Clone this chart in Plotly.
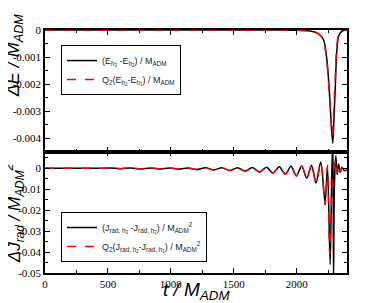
import plotly.graph_objects as go

# ---------------- data ----------------
# top panel: energy differences
t_E_a = [0, 1000, 1800, 2000, 2106, 2173, 2213, 2240, 2260, 2276, 2287, 2297, 2308, 2318, 2334, 2358, 2385, 2400]
dE_h3h2 = [0, 0, 0, -0.00001, -0.00004, -0.00014, -0.00035, -0.0011, -0.0023, -0.0036, -0.0042,
           -0.0032, -0.002, -0.00085, -0.00022, -0.00005, 0, 0]
t_E_b = [0, 1000, 1800, 2000, 2106, 2173, 2210, 2238, 2258, 2274, 2284, 2294, 2305, 2316, 2332, 2356, 2385, 2400]
dE_q2 = [0, 0, 0, -0.00001, -0.00004, -0.00014, -0.00035, -0.0011, -0.0023, -0.0034, -0.0039,
         -0.003, -0.0019, -0.0008, -0.0002, -0.00004, 0, 0]

# bottom panel: radiated angular momentum differences
t_J_a = [0, 450, 520, 600, 680, 760, 840, 915, 990, 1065, 1135, 1205, 1275, 1340, 1405, 1468,
         1530, 1590, 1648, 1705, 1760, 1812, 1862, 1910, 1955, 1998, 2040, 2080, 2118, 2154,
         2191, 2226, 2245, 2266, 2280, 2288, 2293, 2300, 2311, 2322, 2333, 2346, 2360, 2378, 2400]
dJ_h3h2 = [0, 0, 0.0001, -0.0002, 0.0001, -0.0003, 0.0001, -0.0003, 0.0001, -0.0004, 0.0001,
           -0.0006, 0.0002, -0.0008, 0.0002, -0.0011, 0.0003, -0.0014, 0.0004, -0.0018, 0.0005,
           -0.0023, 0.0007, -0.0029, 0.0009, -0.0037, 0.0011, -0.0048, 0.0014, -0.007, 0.003,
           -0.0165, 0.001, -0.046, 0.0, 0.012, -0.053, -0.008, 0.006, -0.003, 0.002, -0.002,
           0.0005, -0.0012, -0.0008]
t_J_b = [0, 450, 520, 600, 680, 760, 840, 915, 990, 1065, 1135, 1205, 1275, 1340, 1405, 1468,
         1530, 1590, 1648, 1705, 1760, 1812, 1862, 1910, 1955, 1998, 2040, 2080, 2118, 2154,
         2191, 2226, 2245, 2262, 2280, 2290, 2300, 2311, 2322, 2334, 2348, 2362, 2380, 2400]
dJ_q2 = [0, 0, 0.0001, -0.0002, 0.0001, -0.0003, 0.0001, -0.0003, 0.0001, -0.0004, 0.0001,
         -0.0006, 0.0002, -0.0008, 0.0002, -0.0011, 0.0003, -0.0014, 0.0004, -0.0018, 0.0005,
         -0.0023, 0.0007, -0.0029, 0.0009, -0.0037, 0.0011, -0.0048, 0.0014, -0.007, 0.003,
         -0.0175, 0.0014, -0.041, -0.01, -0.004, 0.001, 0.004, -0.002, 0.0015, -0.0015,
         0.0003, -0.001, -0.0008]

x_ticks = [0, 500, 1000, 1500, 2000]
x_ticktext = ["0", "500", "1000", "1500", "2000"]
yE_ticks = [0, -0.001, -0.002, -0.003, -0.004]
yE_ticktext = ["0", "-0.001", "-0.002", "-0.003", "-0.004"]
yJ_ticks = [0, -0.01, -0.02, -0.03, -0.04, -0.05]
yJ_ticktext = ["0", "-0.01", "-0.02", "-0.03", "-0.04", "-0.05"]

names_E = ["(E<sub>h<sub>3</sub></sub> -E<sub>h<sub>2</sub></sub>) / M<sub>ADM</sub>",
           "Q<sub>2</sub>(E<sub>h<sub>2</sub></sub>-E<sub>h<sub>1</sub></sub>) / M<sub>ADM</sub>"]
names_J = ["(J<sub>rad, h<sub>3</sub></sub> -J<sub>rad, h<sub>2</sub></sub>) / M<sub>ADM</sub><sup>2</sup>",
           "Q<sub>2</sub>(J<sub>rad, h<sub>2</sub></sub>-J<sub>rad, h<sub>1</sub></sub>) / M<sub>ADM</sub><sup>2</sup>"]

# ---------------- figure ----------------
fig = go.Figure()
fig.add_trace(go.Scatter(x=t_E_a, y=dE_h3h2, mode="lines", name=names_E[0],
                         line=dict(color="black", width=1.5, shape="spline", smoothing=0.8),
                         xaxis="x2", yaxis="y2", legend="legend"))
fig.add_trace(go.Scatter(x=t_E_b, y=dE_q2, mode="lines", name=names_E[1],
                         line=dict(color="#ff0000", width=1.5, dash="dash", shape="spline", smoothing=0.8),
                         xaxis="x2", yaxis="y2", legend="legend"))
fig.add_trace(go.Scatter(x=t_J_a, y=dJ_h3h2, mode="lines", name=names_J[0],
                         line=dict(color="black", width=1.5, shape="spline", smoothing=0.8),
                         xaxis="x", yaxis="y", legend="legend2"))
fig.add_trace(go.Scatter(x=t_J_b, y=dJ_q2, mode="lines", name=names_J[1],
                         line=dict(color="#ff0000", width=1.5, dash="dash", shape="spline", smoothing=0.8),
                         xaxis="x", yaxis="y", legend="legend2"))

tickfont = dict(family="Liberation Serif, Times New Roman, serif", size=11, color="black")
common_axis = dict(showline=True, linecolor="black", linewidth=1.5, mirror="allticks",
                   ticks="inside", ticklen=5, tickwidth=1, tickcolor="black",
                   showgrid=False, zeroline=False, tickfont=tickfont, automargin=False)

# the page body adds an 8 px offset; the figure is sized so the plot area lands at
# x 45..347, y 30..273 in the 392x303 window
fig.update_layout(
    width=384, height=295,
    margin=dict(l=37, r=45, t=22, b=30),
    paper_bgcolor="white", plot_bgcolor="white",
    font=dict(family="Liberation Sans", color="black"),
    xaxis=dict(domain=[0, 1], range=[0, 2400], tickvals=x_ticks, ticktext=x_ticktext,
               minor=dict(dtick=250, ticklen=3, ticks="inside", tickcolor="black"),
               anchor="y", **common_axis),
    yaxis=dict(domain=[0, 0.5], range=[-0.05, 0.008], tickvals=yJ_ticks, ticktext=yJ_ticktext,
               minor=dict(dtick=0.005, tick0=0, ticklen=3, ticks="inside", tickcolor="black"),
               anchor="x", **common_axis),
    xaxis2=dict(domain=[0, 1], range=[0, 2400], tickvals=x_ticks, showticklabels=False,
                minor=dict(dtick=250, ticklen=3, ticks="inside", tickcolor="black"),
                anchor="y2", matches="x", **common_axis),
    yaxis2=dict(domain=[0.5, 1], range=[-0.0045, 0], tickvals=yE_ticks, ticktext=yE_ticktext,
                minor=dict(dtick=0.0005, tick0=0, ticklen=3, ticks="inside", tickcolor="black"),
                anchor="x2", **common_axis),
    legend=dict(x=0.053, y=0.938, xanchor="left", yanchor="top", bgcolor="white",
                bordercolor="black", borderwidth=1, itemwidth=30,
                font=dict(family="Liberation Sans", size=9, color="#222"),
                tracegroupgap=0),
    legend2=dict(x=0.053, y=0.251, xanchor="left", yanchor="top", bgcolor="white",
                 bordercolor="black", borderwidth=1, itemwidth=30,
                 font=dict(family="Liberation Sans", size=9, color="#222"),
                 tracegroupgap=0),
    showlegend=True,
)

fig.add_annotation(text="<i>ΔE / M<sub>ADM</sub></i>", xref="paper", yref="paper",
                   x=-0.1, y=0.895, xanchor="center", yanchor="middle",
                   textangle=-90, showarrow=False,
                   font=dict(family="Liberation Sans", size=18, color="black"))
fig.add_annotation(text="<i>ΔJ<sub>rad</sub> / M<sub>ADM</sub><sup>2</sup></i>", xref="paper", yref="paper",
                   x=-0.1, y=0.245, xanchor="center", yanchor="middle",
                   textangle=-90, showarrow=False,
                   font=dict(family="Liberation Sans", size=17, color="black"))
fig.add_annotation(text="<i>t / M<sub>ADM</sub></i>", xref="paper", yref="paper",
                   x=0.503, y=-0.076, xanchor="center", yanchor="middle", showarrow=False,
                   font=dict(family="Liberation Sans", size=19, color="black"))

fig.write_html("out.html")
